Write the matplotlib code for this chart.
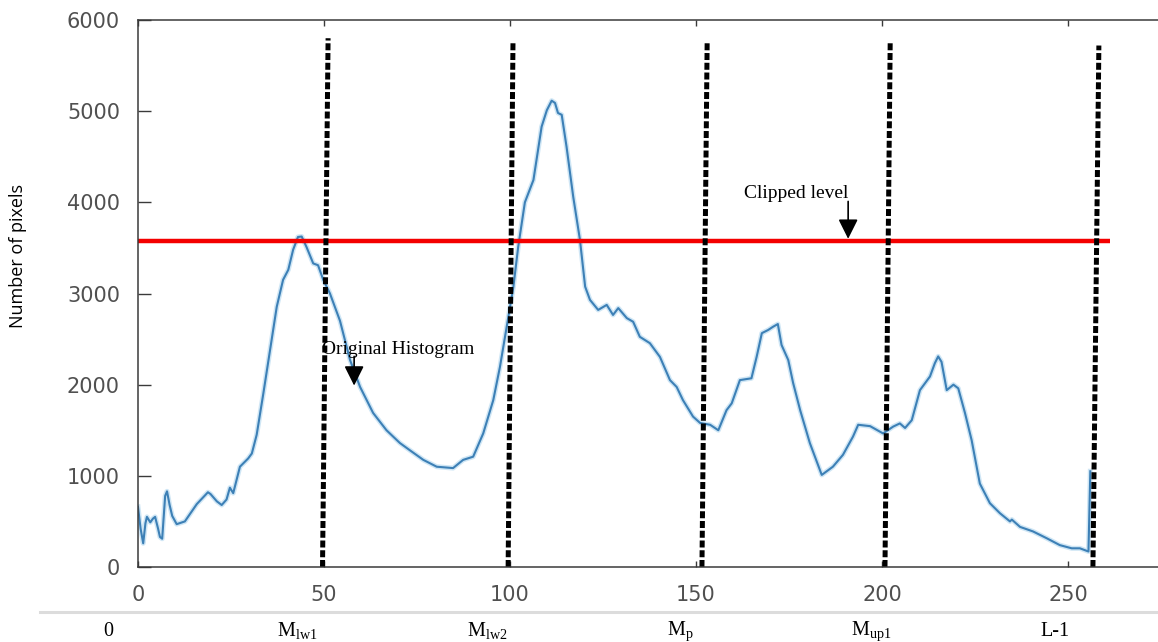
import matplotlib
matplotlib.use('Agg')
import matplotlib.pyplot as plt
from matplotlib.lines import Line2D

# histogram curve (grey level -> pixel count)
grey = [0, 0.7, 1.4, 2.0, 2.4, 3.3, 4.0, 4.6, 5.4, 5.9, 6.5, 7.3, 7.8, 8.5, 9.2,
        10.4, 12.6, 15.8, 18.8, 19.5, 21.2, 22.5, 23.8, 24.7, 25.6, 27.4, 29.6,
        30.6, 31.9, 33.7, 35.5, 37.3, 39.0, 40.4, 41.7, 43.0, 44.0, 45.3, 47.1,
        48.4, 49.8, 51.6, 54.3, 57.0, 59.7, 63.2, 66.8, 70.4, 73.1, 76.7, 80.3,
        84.7, 87.4, 90.1, 92.8, 95.5, 97.3, 99.1, 100.9, 102.2, 104.0, 106.3,
        108.5, 109.9, 111.2, 112.1, 112.9, 113.9, 115.2, 117.0, 118.8, 120.2,
        121.5, 123.7, 126.0, 127.7, 129.1, 131.4, 133.1, 134.9, 137.6, 140.3,
        143.0, 144.8, 146.5, 149.2, 151.1, 153.8, 156.0, 158.2, 159.6, 161.8,
        164.9, 166.3, 167.7, 169.4, 170.7, 172.0, 173.0, 174.8, 176.1, 178.0,
        180.6, 183.8, 186.8, 189.5, 192.2, 193.6, 196.8, 200.3, 203.0, 204.8,
        206.2, 208.0, 210.2, 212.9, 214.2, 215.1, 216.0, 217.4, 219.2, 220.5,
        222.3, 224.1, 226.3, 229.0, 231.7, 234.4, 234.9, 237.1, 240.6, 244.3,
        247.8, 251.0, 253.2, 255.5, 256.0]
counts = [660, 420, 260, 480, 550, 490, 530, 550, 420, 330, 310, 780, 830, 680, 560,
          470, 500, 690, 820, 800, 720, 680, 740, 870, 810, 1100, 1190,
          1245, 1450, 1905, 2380, 2855, 3150, 3260, 3480, 3620, 3625, 3510, 3330,
          3310, 3150, 3000, 2700, 2270, 1975, 1690, 1500, 1360, 1280, 1175, 1100,
          1085, 1175, 1210, 1465, 1830, 2195, 2635, 3070, 3510, 4000, 4245,
          4830, 5010, 5115, 5090, 4980, 4960, 4610, 4060, 3590, 3075,
          2930, 2820, 2875, 2765, 2840, 2730, 2690, 2525, 2455, 2305,
          2050, 1975, 1830, 1650, 1580, 1560, 1500, 1720, 1795, 2050,
          2070, 2305, 2565, 2600, 2635, 2665, 2435, 2270, 2020, 1720,
          1360, 1010, 1100, 1230, 1430, 1560, 1545, 1465, 1540, 1575,
          1525, 1610, 1940, 2090, 2235, 2310, 2250, 1940, 2000, 1960,
          1690, 1390, 915, 700, 590, 500, 520, 440, 390, 315,
          240, 205, 205, 170, 1050]

clip_level = 3580
clip_end = 261.3

# dashed partition lines (slightly skewed in the source)
split_bottom = [49.6, 99.5, 151.6, 200.8, 256.7]
split_top_x = [51.1, 100.8, 153.0, 202.2, 258.3]
split_top = [5800, 5745, 5770, 5745, 5720]

bottom_labels = ['0', r'M$_{\mathrm{lw1}}$', r'M$_{\mathrm{lw2}}$', r'M$_{\mathrm{p}}$',
                 r'M$_{\mathrm{up1}}$', 'L-1']
bottom_label_px = [108, 297, 487, 680, 871, 1055]

plt.rcParams['mathtext.fontset'] = 'custom'
plt.rcParams['mathtext.rm'] = 'Liberation Serif'

W, H = 1158, 642
fig = plt.figure(figsize=(W / 100, H / 100), dpi=100)
ax = fig.add_axes([138 / W, 75 / H, 1 - 138 / W, 547 / H])

ax.plot(grey, counts, color='#cfe6f5', lw=3.6, solid_joinstyle='round')
ax.plot(grey, counts, color='#3d80b6', lw=1.5, solid_joinstyle='round')

ax.plot([0, clip_end], [clip_level, clip_level], color='#f40000', lw=3.2,
        solid_capstyle='butt')

for xb, xt, yt in zip(split_bottom, split_top_x, split_top):
    ax.plot([xb, xt], [0, yt], color='black', lw=3.6,
            dashes=(1.4, 0.55), solid_capstyle='butt', dash_capstyle='butt')

ax.set_xlim(0, (W - 138) / 3.72)
ax.set_ylim(0, 6000)
ax.set_xticks(range(0, 251, 50))
ax.set_yticks(range(0, 6001, 1000))

for side in ['left', 'top', 'bottom']:
    ax.spines[side].set_color('#3a3a3a')
    ax.spines[side].set_linewidth(1.1)
ax.spines['right'].set_visible(False)

ax.tick_params(axis='x', direction='in', length=4, width=1, color='#3a3a3a',
               top=True, labelsize=15, labelcolor='#505050', pad=13)
ax.tick_params(axis='y', direction='in', length=9, width=1, color='#3a3a3a',
               labelsize=15, labelcolor='#505050', pad=13)

ax.annotate('', xy=(190.9, 3600), xytext=(190.9, 4010),
            arrowprops=dict(arrowstyle='-|>,head_length=0.8,head_width=0.4',
                            color='black', lw=1.2, mutation_scale=15,
                            shrinkA=0, shrinkB=0))
ax.text(190.9, 4100, 'Clipped level', ha='right', va='center',
        family='Liberation Serif', fontsize=14)

ax.annotate('', xy=(58.1, 1990), xytext=(58.1, 2310),
            arrowprops=dict(arrowstyle='-|>,head_length=0.8,head_width=0.4',
                            color='black', lw=1.2, mutation_scale=15,
                            shrinkA=0, shrinkB=0))
ax.text(49.5, 2390, 'Original Histogram', ha='left', va='center',
        family='Liberation Serif', fontsize=14)

fig.text(18 / W, 1 - 256 / H, 'Number of pixels', rotation=90, ha='center',
         va='center', family='Open Sans', fontsize=13)

fig.add_artist(Line2D([40 / W, 1], [1 - 612 / H, 1 - 612 / H],
                      transform=fig.transFigure, color='#dcdcdc', lw=2.2))

for lab, px in zip(bottom_labels, bottom_label_px):
    fig.text(px / W, 1 - 631 / H, lab, ha='center', va='center',
             family='Liberation Serif', fontsize=14.5)

fig.savefig('out.png', dpi=100)
